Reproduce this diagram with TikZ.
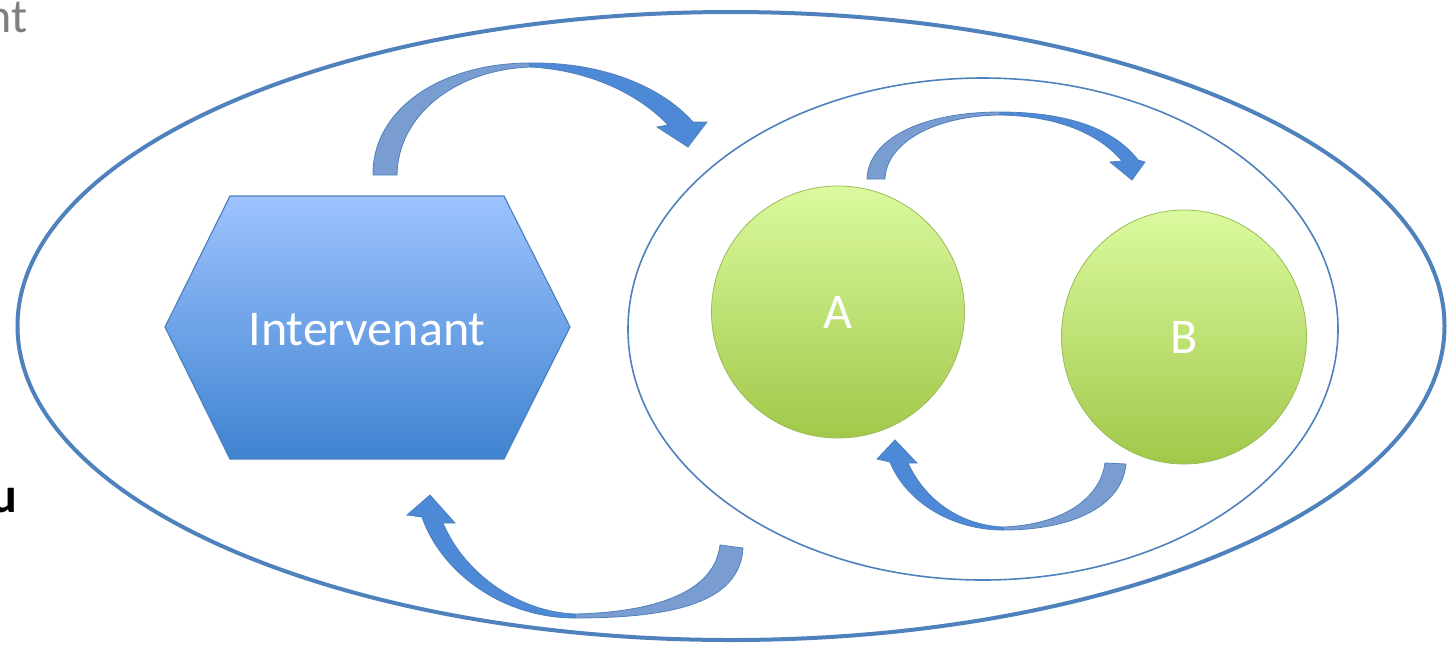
\documentclass[tikz,border=0pt]{standalone}
\usepackage{fontspec}
\setmainfont{Carlito}
\usepackage{tikz}
\usetikzlibrary{shapes.geometric}

\definecolor{lineblue}{HTML}{4F81BD}
\definecolor{hextop}{HTML}{9DC3FF}
\definecolor{hexbot}{HTML}{3F83D0}
\definecolor{balltop}{HTML}{DAFA9E}
\definecolor{ballbot}{HTML}{A2C84A}
\definecolor{ballline}{HTML}{9BBB59}
\definecolor{arrowtail}{HTML}{7A9DD1}
\definecolor{arrowhead}{HTML}{4D89D6}

\begin{document}
\begin{tikzpicture}[x=0.5pt, y=-0.5pt,  % 一个单位 = 半个 pt,y 轴朝下
    ring/.style={ellipse, draw=lineblue, inner sep=0pt},
    ball/.style={ellipse, draw=ballline, top color=balltop, bottom color=ballbot,
        inner sep=0pt, text=white, font=\fontsize{25}{30}\selectfont},
    tailpart/.style={fill=arrowtail, draw=lineblue, line width=0.4pt},
    headpart/.style={fill=arrowhead, draw=lineblue, line width=0.4pt}]
    \useasboundingbox (0, 0) rectangle (1452, 650);

    % 页面边上被截掉的文字
    \node[anchor=base east, text=gray, font=\fontsize{24}{29}\selectfont, inner sep=0pt] (cutword) at (28, 32) {nt};
    \node[anchor=base east, font=\fontsize{25}{30}\selectfont\bfseries, inner sep=0pt] (cutmark) at (18, 512) {u};

    % 外层大椭圆 和 里层椭圆
    \node[ring, line width=2pt, minimum width=713.5pt, minimum height=314pt] (outer) at (731, 326) {};
    \node[ring, line width=0.8pt, minimum width=355pt, minimum height=251pt] (inner) at (983, 329) {};

    % 六边形, 渐变填充; 文字单独放一个结点
    \shade[top color=hextop, bottom color=hexbot, draw=lineblue, line width=0.6pt]
        (230, 196) -- (504, 196) -- (570, 327) -- (504, 459) -- (230, 459) -- (165, 327) -- cycle;
    \node[text=white, font=\fontsize{25}{30}\selectfont] (inter) at (367, 330) {Intervenant};

    % 两个绿色的圆
    \node[ball, minimum width=126.5pt, minimum height=126pt] (A) at (838, 312) {A};
    \node[ball, minimum width=122.5pt, minimum height=127pt] (B) at (1184, 337) {B};

    % 上面的弯箭头: Intervenant -> 里层椭圆
    \path[tailpart] (373, 175) .. controls (372, 110) and (440, 63) .. (530, 63)
        -- (530, 67) .. controls (455, 70) and (398, 115) .. (397, 175) -- cycle;
    \path[headpart] (530, 63) .. controls (600, 62) and (660, 85) .. (693, 122)
        -- (707, 122) -- (688, 147) -- (657, 127) -- (668, 125)
        .. controls (640, 95) and (590, 70) .. (530, 67) -- cycle;

    % 下面的弯箭头: 里层椭圆 -> Intervenant
    \path[tailpart] (575, 618) .. controls (680, 618) and (740, 600) .. (743, 548)
        -- (720, 545) .. controls (715, 590) and (660, 612) .. (575, 614) -- cycle;
    \path[headpart] (575, 618) .. controls (500, 618) and (440, 570) .. (422, 517)
        -- (407, 515) -- (430, 495) -- (455, 523) -- (443, 523)
        .. controls (465, 575) and (520, 612) .. (575, 614) -- cycle;

    % A -> B
    \path[tailpart] (867, 179) .. controls (868, 140) and (920, 112) .. (1000, 112)
        -- (1000, 115) .. controls (930, 116) and (886, 145) .. (885, 179) -- cycle;
    \path[headpart] (1000, 112) .. controls (1070, 112) and (1115, 130) .. (1138, 160)
        -- (1145, 162) -- (1132, 180) -- (1110, 162) -- (1122, 161)
        .. controls (1100, 135) and (1060, 116) .. (1000, 115) -- cycle;

    % B -> A
    \path[tailpart] (1003, 530) .. controls (1075, 530) and (1122, 505) .. (1126, 464)
        -- (1105, 463) .. controls (1100, 500) and (1060, 525) .. (1003, 527) -- cycle;
    \path[headpart] (1003, 530) .. controls (950, 530) and (905, 500) .. (890, 462)
        -- (877, 459) -- (895, 440) -- (917, 463) -- (908, 463)
        .. controls (925, 500) and (960, 525) .. (1003, 527) -- cycle;
\end{tikzpicture}
\end{document}
